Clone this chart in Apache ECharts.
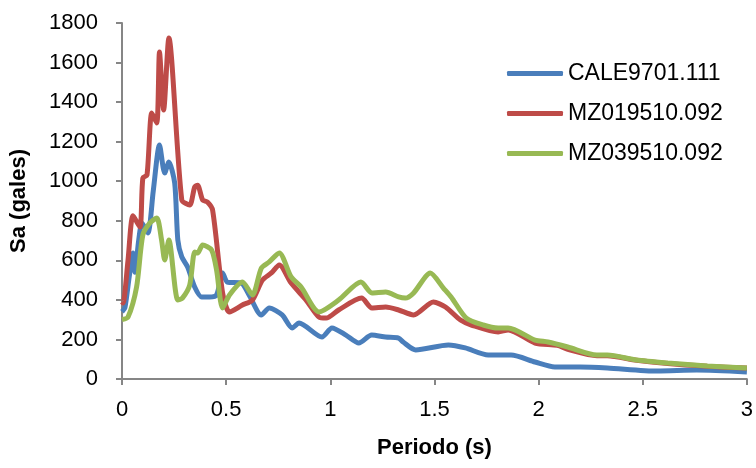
<!DOCTYPE html>
<html>
<head>
<meta charset="utf-8">
<script src="https://cdn.jsdelivr.net/npm/echarts@6/dist/echarts.min.js"></script>
<style>
  html, body { margin: 0; padding: 0; background: #fff; }
  #chartContainer { width: 756px; height: 468px; }
</style>
</head>
<body>
<div id="chartContainer"></div>
<script>
'use strict';
const seriesNames = ['CALE9701.111', 'MZ019510.092', 'MZ039510.092'];
const xTicks = [0, 0.5, 1, 1.5, 2, 2.5, 3];

const blueX = [0, 0.014, 0.035, 0.053, 0.062, 0.08, 0.096, 0.124, 0.15, 0.18, 0.205, 0.225, 0.253, 0.268, 0.287, 0.315, 0.349, 0.382, 0.42, 0.454, 0.483, 0.506, 0.573, 0.61, 0.669, 0.707, 0.769, 0.817, 0.85, 0.96, 1.008, 1.075, 1.137, 1.199, 1.266, 1.328, 1.35, 1.41, 1.567, 1.648, 1.758, 1.868, 1.983, 2.078, 2.2, 2.33, 2.57, 2.76, 3.0];
const blueY = [340, 360, 520, 637, 540, 700, 789, 738, 950, 1183, 1041, 1097, 991, 703, 617, 566, 465, 415, 415, 425, 536, 490, 485, 425, 324, 359, 324, 258, 283, 212, 258, 222, 182, 222, 212, 207, 187, 147, 172, 157, 121, 121, 86, 61, 61, 56, 40, 45, 35];

const redX = [0, 0.005, 0.029, 0.053, 0.086, 0.1, 0.12, 0.143, 0.167, 0.18, 0.2, 0.225, 0.287, 0.325, 0.349, 0.363, 0.387, 0.41, 0.435, 0.483, 0.516, 0.578, 0.626, 0.674, 0.717, 0.755, 0.812, 0.884, 0.946, 0.98, 1.04, 1.15, 1.2, 1.266, 1.328, 1.4, 1.495, 1.553, 1.625, 1.677, 1.806, 1.854, 1.983, 2.09, 2.14, 2.28, 2.33, 2.47, 2.62, 2.81, 3.0];
const redY = [390, 384, 602, 825, 768, 1016, 1031, 1345, 1294, 1653, 1360, 1724, 905, 880, 971, 980, 905, 895, 854, 435, 339, 374, 399, 500, 536, 576, 485, 399, 313, 308, 349, 409, 359, 364, 349, 324, 389, 364, 298, 273, 238, 248, 182, 170, 150, 118, 118, 95, 78, 64, 55];

const greenX = [0, 0.029, 0.07, 0.1, 0.134, 0.167, 0.19, 0.205, 0.225, 0.268, 0.29, 0.325, 0.349, 0.363, 0.387, 0.43, 0.454, 0.483, 0.516, 0.578, 0.626, 0.669, 0.707, 0.755, 0.812, 0.86, 0.946, 1.04, 1.147, 1.2, 1.266, 1.328, 1.36, 1.4, 1.48, 1.543, 1.58, 1.653, 1.734, 1.806, 1.854, 1.983, 2.045, 2.14, 2.28, 2.33, 2.47, 2.62, 2.81, 3.0];
const greenY = [300, 313, 465, 728, 789, 814, 703, 602, 703, 399, 409, 475, 642, 637, 677, 652, 551, 359, 425, 490, 425, 561, 592, 637, 516, 465, 339, 399, 490, 435, 440, 415, 409, 435, 536, 460, 415, 308, 273, 258, 258, 197, 187, 162, 121, 121, 96, 81, 66, 56];

const colors = ['#4A7EBB', '#BE4B48', '#98B954'];

function pairs(xs, ys) {
    return xs.map((x, i) => [x, ys[i]]);
}

let chart = echarts.init(document.getElementById('chartContainer'));
const font = 'Liberation Sans';

let makeSeries = (name, xs, ys, color) => ({
    name: name,
    type: 'line',
    data: pairs(xs, ys),
    symbol: 'none',
    smooth: 0.25,
    lineStyle: { color: color, width: 5 },
    itemStyle: { color: color }
});

chart.setOption({
    animation: false,
    backgroundColor: '#fff',
    color: colors,
    grid: { left: 122, right: 6, top: 23, bottom: 89 },
    legend: {
        orient: 'vertical',
        left: 502,
        top: 57,
        icon: 'roundRect',
        itemWidth: 56,
        itemHeight: 5,
        itemGap: 17,
        data: seriesNames,
        textStyle: { fontFamily: font, fontSize: 23, color: '#000', lineHeight: 22 }
    },
    xAxis: {
        type: 'value',
        min: 0,
        max: 3,
        interval: 0.5,
        name: 'Periodo (s)',
        nameLocation: 'middle',
        nameGap: 58,
        nameTextStyle: { fontFamily: font, fontSize: 22, fontWeight: 'bold', color: '#000' },
        axisLine: { lineStyle: { color: '#868686', width: 2 } },
        axisTick: { show: true, length: 6, lineStyle: { color: '#868686', width: 2 } },
        axisLabel: {
            fontFamily: font, fontSize: 22, color: '#000', margin: 20,
            formatter: v => xTicks.indexOf(v) >= 0 ? String(v) : ''
        },
        splitLine: { show: false }
    },
    yAxis: {
        type: 'value',
        min: 0,
        max: 1800,
        interval: 200,
        name: 'Sa (gales)',
        nameLocation: 'middle',
        nameGap: 92,
        nameTextStyle: { fontFamily: font, fontSize: 22, fontWeight: 'bold', color: '#000' },
        axisLine: { show: true, lineStyle: { color: '#868686', width: 2 } },
        axisTick: { show: true, length: 6, lineStyle: { color: '#868686', width: 2 } },
        axisLabel: { fontFamily: font, fontSize: 22, color: '#000', margin: 24, formatter: v => String(v) },
        splitLine: { show: false }
    },
    series: [
        makeSeries(seriesNames[0], blueX, blueY, colors[0]),
        makeSeries(seriesNames[1], redX, redY, colors[1]),
        makeSeries(seriesNames[2], greenX, greenY, colors[2])
    ]
});
</script>
</body>
</html>
